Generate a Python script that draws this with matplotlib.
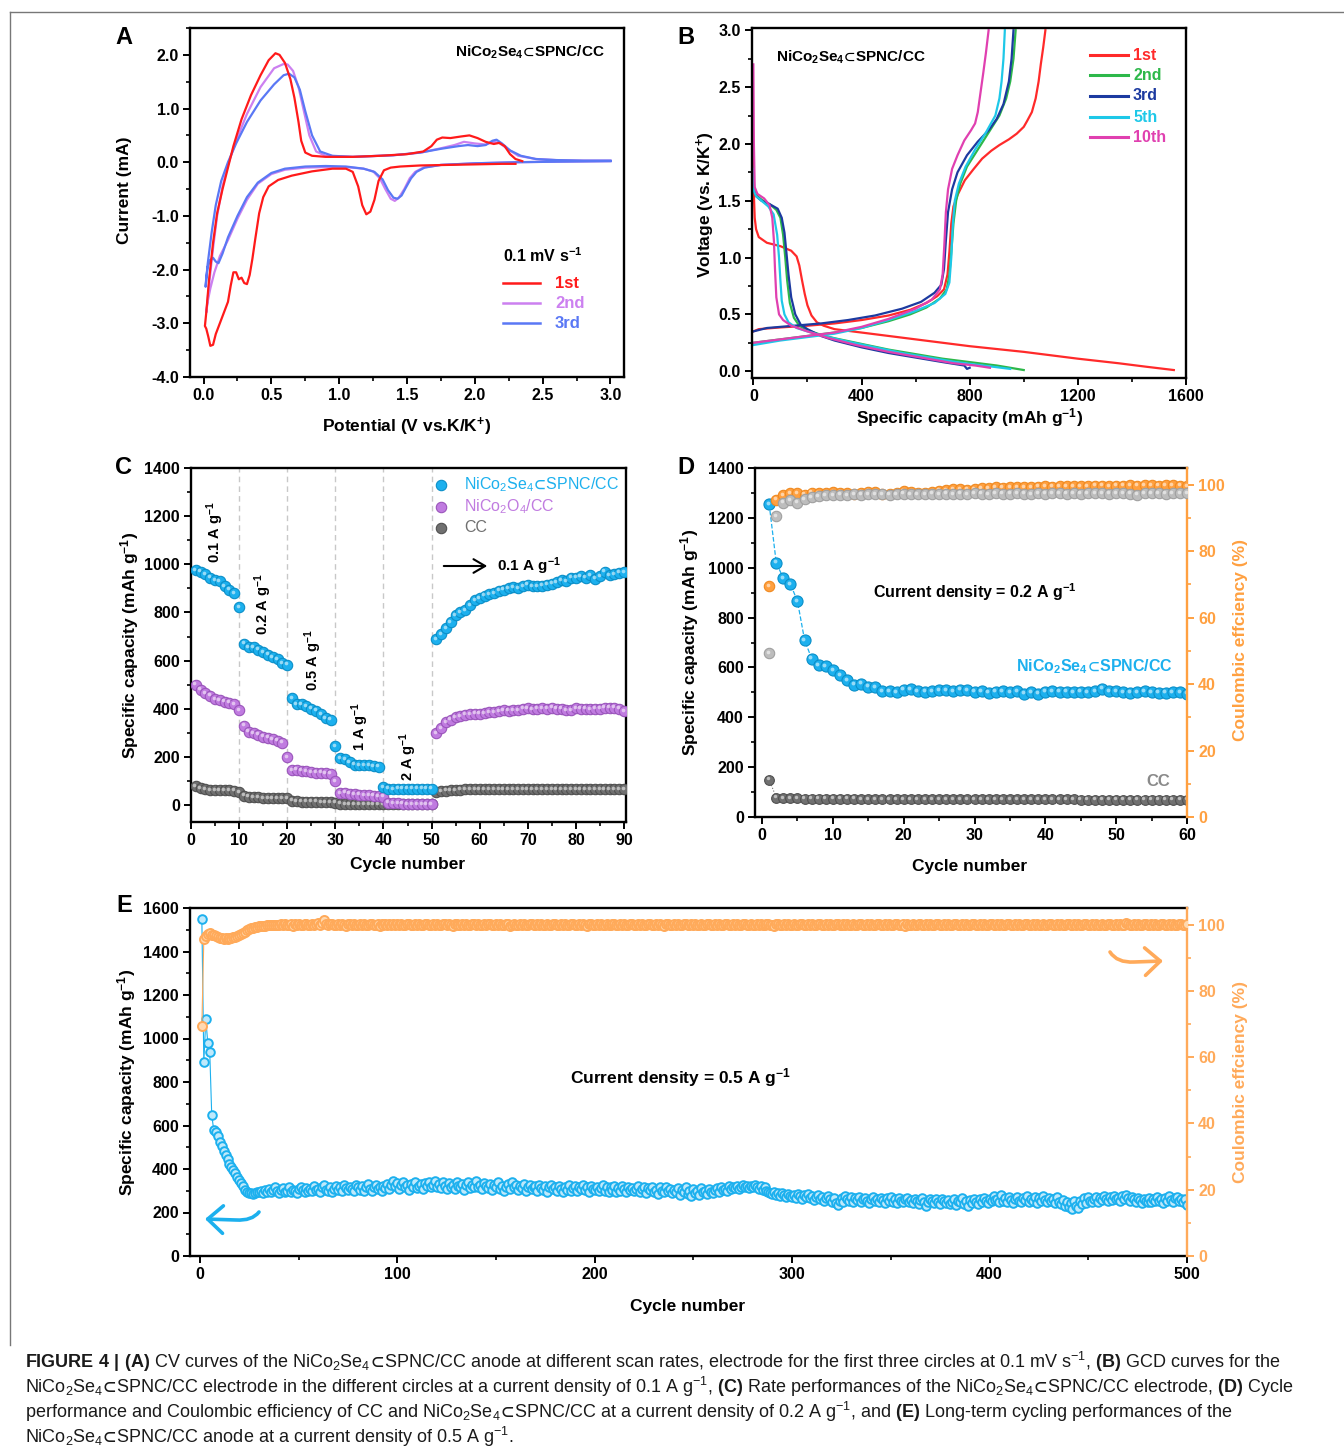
import matplotlib
matplotlib.use('Agg')
import matplotlib.pyplot as plt
from matplotlib.lines import Line2D
from matplotlib.patches import FancyArrowPatch
from matplotlib.path import Path
from matplotlib.ticker import MultipleLocator, FormatStrFormatter
import matplotlib.transforms as mtransforms
import numpy as np

plt.rcParams['font.family'] = ['Liberation Sans', 'DejaVu Sans']
plt.rcParams['font.weight'] = 'bold'
plt.rcParams['mathtext.default'] = 'regular'
plt.rcParams['mathtext.fontset'] = 'custom'
plt.rcParams['mathtext.rm'] = 'Liberation Sans'
plt.rcParams['mathtext.bf'] = 'Liberation Sans:bold'
plt.rcParams['mathtext.it'] = 'Liberation Sans:italic'
plt.rcParams['axes.unicode_minus'] = False
plt.rcParams['axes.linewidth'] = 1.7

# ---------------- DATA ----------------
# Panel A: CV curves (potential V, current mA), cathodic then anodic sweep
cv1_E = [2.30, 2.20, 2.00, 1.80, 1.60, 1.45, 1.38, 1.33, 1.29, 1.26, 1.23, 1.20, 1.17, 1.14, 1.10, 1.05,
         0.95, 0.80, 0.65, 0.55, 0.48, 0.44, 0.41, 0.38, 0.36, 0.34, 0.32, 0.30, 0.28, 0.26, 0.24, 0.22,
         0.20, 0.18, 0.15, 0.12, 0.09, 0.07, 0.05, 0.035, 0.02, 0.01,
         0.01, 0.02, 0.04, 0.07, 0.10, 0.14, 0.18, 0.22, 0.28, 0.35, 0.42, 0.48, 0.53, 0.56, 0.60, 0.64,
         0.67, 0.70, 0.72, 0.75, 0.80, 0.90, 1.10, 1.30, 1.50, 1.62, 1.68, 1.72, 1.76, 1.82, 1.90, 1.96,
         2.02, 2.08, 2.14, 2.18, 2.22, 2.26, 2.30, 2.35]
cv1_I = [-0.03, -0.03, -0.04, -0.05, -0.06, -0.08, -0.10, -0.15, -0.35, -0.70, -0.92, -0.97, -0.80, -0.45,
         -0.18, -0.12, -0.12, -0.17, -0.25, -0.33, -0.45, -0.65, -0.95, -1.45, -1.80, -2.10, -2.27, -2.25,
         -2.15, -2.18, -2.05, -2.05, -2.30, -2.60, -2.80, -3.00, -3.20, -3.40, -3.42, -3.25, -3.10, -3.05,
         -3.05, -2.80, -2.20, -1.50, -0.95, -0.50, -0.10, 0.30, 0.80, 1.25, 1.62, 1.90, 2.03, 2.00, 1.85,
         1.55, 1.20, 0.75, 0.40, 0.18, 0.12, 0.10, 0.10, 0.12, 0.15, 0.20, 0.30, 0.42, 0.46, 0.45, 0.48,
         0.50, 0.45, 0.38, 0.34, 0.36, 0.30, 0.15, 0.06, 0.02]
cv2_E = [3.00, 2.60, 2.30, 2.00, 1.75, 1.62, 1.56, 1.52, 1.48, 1.44, 1.41, 1.38, 1.34, 1.30, 1.25, 1.18,
         1.05, 0.90, 0.75, 0.60, 0.50, 0.40, 0.32, 0.25, 0.18, 0.12, 0.08, 0.05, 0.03, 0.02,
         0.02, 0.04, 0.07, 0.10, 0.14, 0.18, 0.24, 0.32, 0.42, 0.52, 0.59, 0.62, 0.66, 0.70, 0.74, 0.78,
         0.83, 0.90, 1.10, 1.40, 1.60, 1.75, 1.85, 1.92, 2.00, 2.08, 2.14, 2.18, 2.24, 2.32, 2.45, 2.60,
         2.80, 3.00]
cv2_I = [0.02, 0.01, 0.00, -0.02, -0.05, -0.10, -0.18, -0.30, -0.50, -0.66, -0.72, -0.68, -0.50, -0.30,
         -0.17, -0.12, -0.09, -0.09, -0.10, -0.14, -0.22, -0.40, -0.70, -1.05, -1.45, -1.75, -2.05, -2.35,
         -2.60, -2.80,
         -2.80, -2.30, -1.60, -1.00, -0.45, -0.05, 0.40, 0.90, 1.40, 1.75, 1.83, 1.82, 1.70, 1.40, 0.95,
         0.50, 0.20, 0.12, 0.10, 0.13, 0.18, 0.26, 0.32, 0.38, 0.35, 0.33, 0.38, 0.36, 0.25, 0.12, 0.06,
         0.04, 0.03, 0.03]
cv3_E = [3.00, 2.60, 2.30, 2.00, 1.75, 1.63, 1.57, 1.53, 1.49, 1.46, 1.43, 1.40, 1.36, 1.32, 1.26, 1.18,
         1.05, 0.90, 0.75, 0.60, 0.50, 0.40, 0.32, 0.25, 0.18, 0.14, 0.11, 0.09, 0.07, 0.05, 0.03, 0.02,
         0.015,
         0.015, 0.03, 0.06, 0.09, 0.13, 0.18, 0.24, 0.32, 0.42, 0.52, 0.59, 0.63, 0.67, 0.71, 0.75, 0.80,
         0.86, 0.95, 1.10, 1.40, 1.60, 1.75, 1.88, 1.95, 2.02, 2.08, 2.13, 2.16, 2.20, 2.26, 2.34, 2.45,
         2.60, 2.80, 3.00]
cv3_I = [0.02, 0.01, 0.00, -0.02, -0.05, -0.10, -0.18, -0.30, -0.48, -0.62, -0.68, -0.66, -0.52, -0.32,
         -0.18, -0.12, -0.08, -0.07, -0.08, -0.12, -0.20, -0.38, -0.65, -1.00, -1.40, -1.70, -1.88, -1.85,
         -1.78, -1.82, -1.95, -2.15, -2.32,
         -2.32, -1.90, -1.30, -0.80, -0.35, 0.00, 0.35, 0.75, 1.15, 1.45, 1.62, 1.65, 1.58, 1.35, 0.95,
         0.50, 0.20, 0.12, 0.10, 0.13, 0.18, 0.25, 0.30, 0.32, 0.30, 0.32, 0.40, 0.42, 0.35, 0.22, 0.12,
         0.06, 0.04, 0.03, 0.03]

# Panel B: GCD curves (capacity mAh/g, voltage V)
gcd1_dis_c = [0, 2, 5, 10, 20, 50, 100, 140, 160, 170, 180, 190, 200, 215, 235, 260, 300, 400, 600, 800,
              1000, 1200, 1350, 1450, 1555]
gcd1_dis_v = [1.95, 1.55, 1.35, 1.25, 1.18, 1.13, 1.10, 1.06, 1.01, 0.93, 0.80, 0.68, 0.58, 0.49, 0.43,
              0.40, 0.37, 0.34, 0.28, 0.22, 0.17, 0.11, 0.07, 0.04, 0.01]
gcd1_chg_c = [0, 20, 100, 200, 300, 400, 500, 580, 640, 680, 705, 718, 725, 732, 740, 755, 782, 815, 846,
              880, 910, 945, 974, 1000, 1012, 1030, 1044, 1055, 1063, 1072, 1080]
gcd1_chg_v = [0.35, 0.37, 0.385, 0.40, 0.42, 0.45, 0.49, 0.54, 0.60, 0.66, 0.72, 0.85, 1.05, 1.30, 1.45,
              1.55, 1.68, 1.78, 1.87, 1.94, 1.99, 2.04, 2.09, 2.15, 2.20, 2.28, 2.40, 2.55, 2.70, 2.85, 3.0]
gcd2_dis_c = [0, 3, 10, 30, 60, 85, 100, 110, 118, 125, 135, 150, 170, 200, 250, 300, 400, 500, 600, 700,
              800, 900, 1000]
gcd2_dis_v = [1.80, 1.60, 1.55, 1.51, 1.47, 1.42, 1.35, 1.20, 1.00, 0.80, 0.60, 0.47, 0.40, 0.36, 0.32,
              0.29, 0.24, 0.19, 0.15, 0.11, 0.08, 0.05, 0.01]
gcd2_chg_c = [0, 100, 200, 300, 400, 500, 580, 640, 690, 715, 725, 732, 740, 750, 765, 790, 830, 870, 910,
              935, 950, 962, 970]
gcd2_chg_v = [0.25, 0.28, 0.31, 0.34, 0.38, 0.44, 0.50, 0.56, 0.64, 0.72, 0.85, 1.05, 1.30, 1.50, 1.65,
              1.80, 1.95, 2.10, 2.25, 2.40, 2.55, 2.75, 3.0]
gcd3_dis_c = [0, 3, 10, 30, 60, 90, 105, 115, 122, 130, 140, 155, 175, 200, 250, 300, 400, 500, 600, 700,
              780, 790, 800]
gcd3_dis_v = [1.75, 1.58, 1.54, 1.50, 1.47, 1.43, 1.35, 1.22, 1.05, 0.85, 0.65, 0.50, 0.41, 0.37, 0.31,
              0.27, 0.21, 0.16, 0.12, 0.08, 0.05, 0.02, 0.03]
gcd3_chg_c = [0, 50, 150, 250, 350, 450, 550, 620, 670, 695, 705, 712, 720, 735, 755, 790, 830, 870, 900,
              925, 945, 955, 962]
gcd3_chg_v = [0.35, 0.38, 0.40, 0.42, 0.45, 0.49, 0.55, 0.61, 0.69, 0.76, 0.90, 1.15, 1.40, 1.60, 1.75,
              1.90, 2.02, 2.12, 2.22, 2.35, 2.55, 2.75, 3.0]
gcd5_dis_c = [0, 3, 10, 30, 55, 75, 88, 95, 100, 105, 115, 130, 160, 200, 260, 350, 450, 550, 650, 750,
              850, 950]
gcd5_dis_v = [1.78, 1.58, 1.54, 1.50, 1.45, 1.38, 1.20, 1.00, 0.80, 0.62, 0.50, 0.43, 0.38, 0.35, 0.31,
              0.26, 0.21, 0.16, 0.12, 0.08, 0.05, 0.02]
gcd5_chg_c = [0, 100, 200, 300, 400, 500, 600, 670, 710, 725, 732, 738, 745, 760, 785, 820, 860, 895, 910,
              918, 925, 930]
gcd5_chg_v = [0.23, 0.27, 0.30, 0.33, 0.38, 0.45, 0.53, 0.60, 0.68, 0.78, 1.00, 1.30, 1.50, 1.65, 1.80,
              1.95, 2.10, 2.25, 2.40, 2.55, 2.75, 3.0]
gcd10_dis_c = [0, 2, 5, 15, 40, 60, 70, 76, 80, 85, 95, 110, 140, 200, 280, 380, 500, 620, 740, 820, 875]
gcd10_dis_v = [2.70, 2.00, 1.62, 1.56, 1.52, 1.46, 1.35, 1.15, 0.90, 0.65, 0.50, 0.45, 0.40, 0.35, 0.29,
               0.23, 0.17, 0.12, 0.07, 0.05, 0.03]
gcd10_chg_c = [0, 100, 200, 300, 400, 500, 600, 660, 690, 700, 706, 712, 720, 735, 755, 780, 805, 820, 830,
               840, 850, 860, 870]
gcd10_chg_v = [0.25, 0.28, 0.31, 0.34, 0.39, 0.46, 0.55, 0.63, 0.72, 0.85, 1.10, 1.40, 1.60, 1.78, 1.90,
               2.03, 2.12, 2.18, 2.28, 2.45, 2.62, 2.80, 3.0]

# Panel C: rate performance
rate_cycles = list(range(1, 91))
rate_se = [975, 970, 960, 945, 935, 930, 910, 895, 880, 822,
           670, 655, 655, 645, 635, 625, 615, 605, 590, 583,
           443, 420, 418, 412, 400, 392, 378, 362, 355, 245,
           195, 190, 178, 168, 165, 165, 165, 163, 160, 75,
           68, 65, 68, 68, 68, 68, 68, 68, 68, 68,
           690, 710, 735, 760, 790, 800, 810, 830, 850, 860,
           870, 875, 880, 890, 895, 900, 905, 900, 910, 915,
           910, 908, 912, 915, 920, 925, 935, 930, 945, 945,
           950, 945, 955, 940, 950, 970, 955, 960, 965, 968]
rate_o4 = [500, 480, 465, 455, 440, 435, 430, 425, 420, 395,
           330, 305, 298, 292, 285, 280, 275, 268, 260, 200,
           145, 148, 143, 140, 138, 135, 135, 133, 130, 100,
           50, 52, 48, 45, 43, 42, 42, 40, 38, 35,
           10, 8, 8, 6, 5, 5, 5, 5, 5, 5,
           300, 320, 345, 355, 365, 370, 375, 378, 380, 380,
           382, 385, 385, 390, 395, 392, 395, 395, 400, 402,
           398, 400, 402, 400, 405, 400, 400, 395, 395, 402,
           400, 400, 398, 400, 400, 405, 405, 405, 400, 390]
rate_cc = [78, 70, 65, 63, 62, 62, 62, 61, 60, 55,
           40, 35, 32, 32, 30, 30, 30, 29, 29, 28,
           18, 16, 15, 15, 14, 14, 13, 13, 12, 10,
           6, 5, 5, 5, 5, 5, 5, 5, 5, 5,
           3, 3, 3, 3, 3, 3, 3, 3, 3, 3,
           55, 58, 60, 62, 63, 64, 65, 65, 65, 66,
           66, 66, 66, 66, 66, 66, 66, 66, 66, 66,
           66, 66, 66, 66, 66, 66, 66, 66, 66, 66,
           66, 66, 66, 66, 66, 66, 66, 66, 66, 66]
rate_labels = ['0.1 A g$^{-1}$', '0.2 A g$^{-1}$', '0.5 A g$^{-1}$', '1 A g$^{-1}$', '2 A g$^{-1}$']

# Panel D: cycling at 0.2 A/g
d_cycles = list(range(1, 61))
d_cap_se = [1255, 1020, 958, 935, 865, 710, 635, 610, 605, 590, 570, 550, 530, 535, 522, 520, 505, 505,
            500, 510, 512, 505, 502, 505, 508, 508, 505, 510, 508, 502, 505, 498, 502, 505, 500, 505, 495,
            500, 495, 503, 505, 503, 503, 500, 503, 500, 505, 515, 505, 505, 500, 498, 500, 505, 500, 498,
            498, 500, 500, 495]
d_cap_cc = [150, 78, 76, 75, 75, 74, 74, 74, 73, 73, 73, 73, 73, 72, 72, 72, 72, 72, 72, 72, 72, 72, 72,
            72, 72, 72, 72, 72, 71, 71, 71, 71, 71, 71, 71, 71, 71, 71, 71, 71, 71, 71, 71, 71, 70, 70, 70,
            70, 70, 70, 70, 70, 70, 70, 70, 70, 70, 70, 70, 70]
d_ce_se = [69.5, 95.5, 96.8, 97.4, 97.5, 97.0, 97.6, 97.4, 97.4, 97.8, 97.6, 97.5, 97.3, 97.6, 97.9, 97.8,
           97.3, 97.2, 97.5, 98.0, 97.8, 97.6, 97.6, 97.8, 98.2, 98.4, 98.6, 98.7, 98.5, 98.7, 98.9, 99.0,
           99.2, 99.1, 99.2, 99.3, 99.2, 99.3, 99.4, 99.5, 99.4, 99.5, 99.5, 99.6, 99.5, 99.6, 99.7, 99.7,
           99.6, 99.7, 99.7, 99.8, 99.7, 99.8, 99.8, 99.7, 99.8, 99.8, 99.7, 99.6]
d_ce_cc = [49.3, 90.5, 94.6, 95.3, 94.6, 95.6, 96.2, 96.6, 96.8, 96.9, 97.0, 96.9, 97.1, 97.0, 97.2, 97.1,
           97.2, 97.0, 97.1, 97.3, 97.2, 97.1, 97.2, 97.3, 97.2, 97.3, 97.2, 97.3, 97.2, 97.4, 97.3, 97.2,
           97.4, 97.3, 97.3, 97.4, 97.3, 97.2, 97.4, 97.3, 97.4, 97.5, 97.3, 97.4, 97.3, 97.4, 97.5, 97.4,
           97.3, 97.4, 97.5, 97.3, 97.0, 97.4, 97.5, 97.4, 97.3, 97.4, 97.5, 97.4]

# Panel E: long-term cycling at 0.5 A/g
e_cycles = list(range(1, 501))
e_cap = [1550, 890, 1090, 980, 940, 650, 580, 570, 550, 525, 505, 485, 465, 445, 425, 410, 395, 380, 365, 350,
         335, 320, 305, 296, 290, 288, 287, 290, 292, 296, 300, 288, 305, 296, 310, 292, 302, 315, 298, 290,
         305, 312, 296, 300, 318, 294, 305, 300, 290, 308, 316, 302, 296, 312, 300, 306, 298, 320, 304, 310,
         296, 315, 325, 305, 300, 318, 296, 310, 322, 305, 315, 300, 328, 312, 302, 318, 310, 298, 325, 315,
         305, 322, 300, 316, 330, 310, 298, 315, 326, 308, 318, 300, 322, 314, 330, 310, 325, 345, 320, 335,
         310, 328, 340, 315, 325, 305, 332, 318, 338, 312, 322, 330, 308, 335, 320, 342, 315, 328, 345, 318,
         330, 312, 338, 322, 306, 335, 318, 328, 310, 340, 320, 315, 332, 305, 326, 338, 312, 325, 318, 345,
         315, 328, 308, 335, 320, 312, 330, 302, 325, 316, 338, 310, 322, 300, 318, 332, 308, 342, 315, 325,
         305, 320, 312, 330, 298, 318, 325, 306, 315, 322, 300, 328, 312, 305, 320, 296, 315, 325, 308, 318,
         300, 322, 310, 296, 318, 305, 325, 300, 312, 320, 298, 315, 308, 325, 302, 316, 296, 320, 310, 305,
         318, 298, 312, 325, 300, 315, 292, 318, 305, 320, 296, 312, 300, 322, 308, 295, 318, 302, 314, 298,
         310, 320, 295, 308, 316, 290, 312, 302, 318, 296, 305, 285, 315, 300, 292, 318, 298, 310, 288, 305,
         296, 312, 280, 302, 292, 316, 285, 300, 275, 308, 290, 298, 280, 312, 292, 300, 285, 306, 295, 290,
         302, 312, 296, 318, 305, 310, 300, 320, 308, 315, 312, 322, 310, 318, 325, 315, 322, 312, 320, 316,
         325, 318, 310, 322, 305, 315, 300, 296, 290, 285, 292, 280, 288, 276, 290, 282, 270, 285, 278, 272,
         282, 268, 285, 275, 262, 280, 270, 286, 265, 275, 258, 272, 280, 262, 270, 255, 268, 278, 260, 250,
         265, 245, 235, 255, 268, 250, 275, 262, 255, 270, 248, 265, 258, 272, 250, 262, 268, 255, 245, 260,
         270, 252, 262, 248, 268, 258, 245, 265, 255, 270, 250, 260, 242, 265, 255, 248, 262, 268, 250, 258,
         245, 262, 255, 240, 258, 265, 250, 230, 248, 262, 255, 245, 260, 250, 238, 262, 252, 245, 258, 240,
         250, 262, 235, 255, 248, 265, 240, 252, 230, 258, 245, 262, 250, 238, 260, 248, 268, 255, 245, 260,
         252, 275, 258, 262, 248, 280, 255, 265, 250, 272, 258, 245, 262, 270, 255, 248, 268, 258, 275, 250,
         262, 255, 270, 245, 265, 252, 278, 258, 250, 268, 255, 262, 245, 270, 250, 240, 258, 232, 248, 225,
         245, 215, 252, 230, 220, 255, 238, 265, 245, 270, 255, 248, 262, 272, 250, 265, 258, 275, 262, 255,
         270, 258, 278, 262, 268, 252, 275, 260, 282, 265, 255, 270, 262, 250, 268, 258, 245, 262, 255, 250,
         265, 248, 260, 252, 272, 255, 262, 245, 268, 252, 275, 258, 250, 265, 270, 255, 262, 248, 260, 235]
e_ce = [69.5, 95.5, 96.5, 97.2, 97.5, 97.0, 96.8, 96.5, 96.2, 96.0, 95.8, 95.7, 95.8, 95.6, 95.9, 96.0, 96.1,
        96.3, 96.5, 96.8, 97.1, 97.5, 97.9, 98.3, 98.6, 98.9, 99.1, 99.3, 99.4, 99.5, 99.6, 99.7, 99.7, 99.8,
        99.8, 99.9, 99.9, 100.0, 99.9, 100.0,
        100.1, 99.8, 100.2, 99.9, 100.0, 100.3, 99.7, 100.1, 99.9, 100.2, 100.0, 99.8, 100.1, 100.3, 99.9, 100.0, 100.2, 99.8, 100.1, 100.4,
        100.0, 100.6, 101.5, 100.2, 99.9, 100.1, 100.3, 99.8, 100.0, 100.2, 99.9, 100.1, 100.0, 99.7, 100.2, 100.1, 99.9, 100.3, 100.0, 99.8,
        100.1, 99.9, 100.2, 100.0, 99.8, 100.3, 100.1, 99.9, 100.0, 100.2, 99.7, 100.1, 100.0, 100.3, 99.9, 100.1, 99.8, 100.2, 100.0, 100.1,
        99.9, 100.2, 100.0, 99.8, 100.1, 100.3, 99.9, 100.0, 100.2, 99.8, 100.1, 100.0, 99.9, 100.3, 100.1, 99.8, 100.0, 100.2, 99.9, 100.1,
        100.0, 99.8, 100.2, 100.1, 99.9, 100.3, 100.0, 99.7, 100.1, 100.2, 99.9, 100.0, 100.1, 99.8, 100.3, 100.0, 99.9, 100.2, 100.1, 99.8,
        100.1, 100.0, 99.8, 100.2, 99.9, 100.1, 100.3, 99.9, 100.0, 100.2, 99.8, 100.1, 100.0, 99.9, 100.2, 100.1, 99.7, 100.0, 100.3, 99.9,
        100.0, 100.2, 99.9, 100.1, 99.8, 100.0, 100.3, 100.1, 99.9, 100.0, 100.2, 99.8, 100.1, 100.0, 99.9, 100.3, 100.0, 99.8, 100.2, 100.1,
        99.9, 100.0, 100.2, 99.8, 100.1, 100.0, 99.9, 100.3, 100.1, 99.8, 100.0, 100.2, 99.9, 100.1, 100.0, 99.7, 100.2, 100.1, 99.9, 100.0,
        100.2, 99.9, 100.1, 100.0, 99.8, 100.3, 100.0, 99.9, 100.1, 100.2, 99.8, 100.0, 100.1, 99.9, 100.3, 100.0, 99.8, 100.2, 100.1, 99.9,
        100.0, 100.1, 99.8, 100.2, 100.0, 99.9, 100.3, 100.1, 99.8, 100.0, 100.2, 99.9, 100.1, 100.0, 99.7, 100.2, 100.1, 99.9, 100.0, 100.3,
        99.9, 100.1, 100.0, 99.8, 100.2, 100.1, 99.9, 100.0, 100.3, 99.8, 100.1, 100.0, 99.9, 100.2, 100.0, 99.8, 100.1, 100.3, 99.9, 100.0,
        100.1, 99.9, 100.2, 100.0, 99.8, 100.1, 100.3, 99.9, 100.0, 100.2, 99.8, 100.1, 100.0, 99.9, 100.2, 100.1, 99.8, 100.0, 100.3, 99.9,
        100.0, 100.2, 99.9, 100.1, 99.8, 100.0, 100.2, 100.1, 99.9, 100.0, 99.7, 100.2, 100.1, 99.9, 100.0, 100.3, 99.8, 100.1, 100.0, 99.9,
        100.2, 100.0, 99.8, 100.1, 100.3, 99.9, 100.0, 100.2, 99.8, 100.1, 100.0, 99.9, 100.2, 100.1, 99.8, 100.0, 100.3, 99.9, 100.1, 100.0,
        99.8, 100.2, 100.1, 99.9, 100.0, 100.3, 99.8, 100.1, 100.0, 99.9, 100.2, 100.0, 99.8, 100.1, 100.3, 99.9, 100.0, 100.2, 99.8, 100.1,
        100.0, 99.9, 100.2, 100.1, 99.8, 100.0, 100.3, 99.9, 100.1, 100.0, 99.8, 100.2, 100.1, 99.9, 100.0, 100.2, 99.7, 100.1, 100.0, 99.9,
        100.2, 100.0, 99.8, 100.1, 100.3, 99.9, 100.0, 100.2, 99.8, 100.1, 100.0, 99.9, 100.3, 100.1, 99.8, 100.0, 100.2, 99.9, 100.1, 100.0,
        99.8, 100.2, 100.1, 99.9, 100.0, 100.3, 99.8, 100.1, 100.0, 99.9, 100.2, 100.1, 99.8, 100.0, 100.3, 99.9, 100.1, 100.0, 99.8, 100.2,
        100.1, 99.9, 100.0, 100.2, 99.8, 100.1, 100.0, 99.9, 100.3, 100.1, 99.8, 100.0, 100.2, 99.9, 100.1, 100.0, 99.8, 100.2, 100.1, 99.9,
        100.0, 100.3, 99.8, 100.1, 100.0, 99.9, 100.2, 100.0, 99.8, 100.1, 100.3, 99.9, 100.0, 100.2, 99.8, 100.1, 100.0, 99.9, 100.2, 100.1,
        99.8, 100.0, 100.3, 99.9, 100.1, 100.0, 99.8, 100.2, 100.1, 99.9, 100.0, 100.3, 99.8, 100.1, 100.0, 99.9, 100.2, 100.0, 99.8, 100.1,
        100.3, 99.9, 100.0, 100.2, 99.8, 100.1, 100.0, 99.9, 100.6, 100.1, 99.8, 100.0, 100.2, 99.9, 100.1, 100.0, 99.8, 100.2, 100.1, 99.9,
        100.0, 100.2, 99.8, 100.1, 100.0, 99.9, 100.3, 100.1, 99.8, 100.0, 100.2, 99.9, 100.1, 100.0, 99.8, 100.2, 100.1, 99.9, 100.0, 100.1]

SUB = r'$\!\subset\!$'
SE = r'NiCo$_2$Se$_4$' + SUB + 'SPNC/CC'

# ---------------- FIGURE ----------------
W, H = 1344, 1452
fig = plt.figure(figsize=(W / 100, H / 100), dpi=100)


def px_axes(l, r, t, b):
    return fig.add_axes([l / W, 1 - b / H, (r - l) / W, (b - t) / H])


def ftext(x, y, s, **kw):
    kw.setdefault('ha', 'center')
    kw.setdefault('va', 'center')
    return fig.text(x / W, 1 - y / H, s, **kw)


def fline(x1, x2, y1, y2, **kw):
    fig.add_artist(Line2D([x1 / W, x2 / W], [1 - y1 / H, 1 - y2 / H], transform=fig.transFigure, **kw))


def farrow(p1, p2, color, lw=1.5, ms=14, style='->,head_length=0.6,head_width=0.35'):
    a = FancyArrowPatch((p1[0] / W, 1 - p1[1] / H), (p2[0] / W, 1 - p2[1] / H), transform=fig.transFigure,
                        arrowstyle=style, mutation_scale=ms, color=color, lw=lw)
    fig.add_artist(a)


def hook_arrow(start, ctrl, mid, end, color, lw=2.6, ms=22):
    pts = [(p[0] / W, 1 - p[1] / H) for p in (start, ctrl, mid, end)]
    path = Path(pts, [Path.MOVETO, Path.CURVE3, Path.CURVE3, Path.LINETO])
    a = FancyArrowPatch(path=path, transform=fig.transFigure, arrowstyle='->,head_length=0.5,head_width=0.45',
                        mutation_scale=ms, color=color, lw=lw, capstyle='round', joinstyle='round')
    fig.add_artist(a)


def style(ax, fs=11.5):
    ax.tick_params(which='major', direction='out', length=5, width=1.4, labelsize=fs, pad=3)
    ax.tick_params(which='minor', direction='out', length=3, width=1.2)


def spheres(ax, x, y, color, edge, ms=7.5, zorder=3, line=None, lw=0.8, ls='-'):
    if line is not None:
        ax.plot(x, y, color=line, lw=lw, ls=ls, zorder=zorder - 0.5)
    ax.plot(x, y, 'o', ms=ms, mfc=color, mec=edge, mew=0.8, zorder=zorder, ls='none')
    off = mtransforms.offset_copy(ax.transData, fig=fig, x=-1.0, y=1.0, units='points')
    ax.plot(x, y, 'o', ms=ms * 0.35, mfc='white', mec='none', alpha=0.55, zorder=zorder + 0.1,
            transform=off, ls='none')


# figure frame
fline(10, 1344, 12, 12, color='#777777', lw=1.0)
fline(10, 10, 12, 1345, color='#777777', lw=1.0)

LBL = 12.5
# ---------- Panel A ----------
axA = px_axes(190, 624, 28, 377)
cA = ['#ff1a1a', '#cc80f0', '#5a78f5']
axA.plot(cv1_E, cv1_I, color=cA[0], lw=1.6, zorder=3)
axA.plot(cv2_E, cv2_I, color=cA[1], lw=1.6, zorder=2)
axA.plot(cv3_E, cv3_I, color=cA[2], lw=1.6, zorder=2.5)
axA.set_xlim(-0.1, 3.1)
axA.set_ylim(-4.0, 2.5)
axA.xaxis.set_major_locator(MultipleLocator(0.5))
axA.xaxis.set_minor_locator(MultipleLocator(0.25))
axA.yaxis.set_major_locator(MultipleLocator(1.0))
axA.yaxis.set_minor_locator(MultipleLocator(0.5))
axA.xaxis.set_major_formatter(FormatStrFormatter('%.1f'))
axA.yaxis.set_major_formatter(FormatStrFormatter('%.1f'))
style(axA)
ftext(124, 38, 'A', fontsize=17)
ftext(125, 190, 'Current (mA)', rotation=90, fontsize=LBL)
ftext(407, 427, 'Potential (V vs.K/K$^{+}$)', fontsize=LBL)
ftext(530, 52, SE, fontsize=11)
ftext(503, 256, '0.1 mV s$^{-1}$', fontsize=11.5, ha='left')
for i, (lab, yy) in enumerate(zip(['1st', '2nd', '3rd'], [283, 303, 323])):
    fline(503, 540, yy, yy, color=cA[i], lw=1.8)
    ftext(555, yy, lab, color=cA[i], fontsize=12, ha='left')

# ---------- Panel B ----------
axB = px_axes(752, 1186, 28, 378)
cB = ['#ff2a2a', '#2db84a', '#1c3aa0', '#1ec8e8', '#e040b0']
gcd = [(gcd1_dis_c, gcd1_dis_v, gcd1_chg_c, gcd1_chg_v),
       (gcd2_dis_c, gcd2_dis_v, gcd2_chg_c, gcd2_chg_v),
       (gcd3_dis_c, gcd3_dis_v, gcd3_chg_c, gcd3_chg_v),
       (gcd5_dis_c, gcd5_dis_v, gcd5_chg_c, gcd5_chg_v),
       (gcd10_dis_c, gcd10_dis_v, gcd10_chg_c, gcd10_chg_v)]
for i, (dc, dv, cc_, cv) in enumerate(gcd):
    axB.plot(dc, dv, color=cB[i], lw=1.6)
    axB.plot(cc_, cv, color=cB[i], lw=1.6)
axB.set_xlim(-5, 1600)
axB.set_ylim(-0.06, 3.02)
axB.xaxis.set_major_locator(MultipleLocator(400))
axB.xaxis.set_minor_locator(MultipleLocator(200))
axB.yaxis.set_major_locator(MultipleLocator(0.5))
axB.yaxis.set_minor_locator(MultipleLocator(0.25))
axB.yaxis.set_major_formatter(FormatStrFormatter('%.1f'))
style(axB)
ftext(686, 38, 'B', fontsize=17)
ftext(706, 205, 'Voltage (vs. K/K$^{+}$)', rotation=90, fontsize=LBL)
ftext(970, 418, 'Specific capacity (mAh g$^{-1}$)', fontsize=LBL)
ftext(851, 57, SE, fontsize=11)
for i, (lab, yy) in enumerate(zip(['1st', '2nd', '3rd', '5th', '10th'], [55, 75, 96, 117, 137])):
    fline(1090, 1128, yy, yy, color=cB[i], lw=2.2)
    ftext(1133, yy, lab, color=cB[i], fontsize=11.5, ha='left')

# ---------- Panel C ----------
axC = px_axes(191, 626, 468, 822)
CY = '#1cb0ee'
CYE = '#0b8fc8'
PU = '#c07be0'
PUE = '#9a55bb'
GR = '#707070'
GRE = '#505050'
for xv in [10, 20, 30, 40, 50]:
    axC.axvline(xv, color='#c8c8c8', lw=1.0, ls=(0, (4, 3)), zorder=1)
spheres(axC, rate_cycles, rate_cc, GR, GRE, zorder=3)
spheres(axC, rate_cycles, rate_o4, PU, PUE, zorder=4)
spheres(axC, rate_cycles, rate_se, CY, CYE, zorder=5)
axC.set_xlim(0, 90.4)
axC.set_ylim(-70, 1400)
axC.xaxis.set_major_locator(MultipleLocator(10))
axC.xaxis.set_minor_locator(MultipleLocator(5))
axC.yaxis.set_major_locator(MultipleLocator(200))
axC.yaxis.set_minor_locator(MultipleLocator(100))
style(axC)
ftext(124, 468, 'C', fontsize=17)
ftext(130, 645, 'Specific capacity (mAh g$^{-1}$)', rotation=90, fontsize=LBL)
ftext(408, 865, 'Cycle number', fontsize=LBL)
for lab, (xx, yy) in zip(rate_labels, [(215, 532), (263, 604), (313, 660), (360, 726), (408, 756)]):
    ftext(xx, yy, lab, rotation=90, fontsize=10.5)
for (lab, col, edge, yy) in [(SE, CY, CYE, 485), ('NiCo$_2$O$_4$/CC', PU, PUE, 507), ('CC', GR, GRE, 528)]:
    fig.add_artist(Line2D([441 / W], [1 - yy / H], marker='o', ms=7.5, mfc=col, mec=edge, mew=0.8,
                          ls='none', transform=fig.transFigure))
    ftext(464, yy, lab, color=col, fontsize=11.5, ha='left', fontweight='normal')
farrow((441, 566), (490, 566), 'black')
ftext(497, 566, '0.1 A g$^{-1}$', fontsize=11, ha='left')

# ---------- Panel D ----------
axD = px_axes(755, 1187, 468, 817)
OR = '#ffa040'
ORE = '#f08a20'
LG = '#bdbdbd'
LGE = '#a0a0a0'
spheres(axD, d_cycles, d_cap_cc, GR, GRE, ms=7, zorder=3, line=GR, lw=0.8, ls=':')
spheres(axD, d_cycles, d_cap_se, CY, CYE, ms=8, zorder=4, line=CY, lw=0.9, ls='--')
axD.set_xlim(-1, 60)
axD.set_ylim(0, 1400)
axD.xaxis.set_major_locator(MultipleLocator(10))
axD.xaxis.set_minor_locator(MultipleLocator(5))
axD.yaxis.set_major_locator(MultipleLocator(200))
axD.yaxis.set_minor_locator(MultipleLocator(100))
style(axD)
axD.spines['right'].set_visible(False)
axD2 = axD.twinx()
spheres(axD2, d_cycles, d_ce_cc, LG, LGE, ms=7.5, zorder=3)
spheres(axD2, d_cycles, d_ce_se, OR, ORE, ms=7.5, zorder=2.5)
axD2.set_ylim(0, 105)
axD2.yaxis.set_major_locator(MultipleLocator(20))
axD2.yaxis.set_minor_locator(MultipleLocator(10))
style(axD2)
axD2.tick_params(axis='y', which='both', colors=OR)
axD2.spines['right'].set_color(OR)
axD2.spines['right'].set_linewidth(1.7)
for s in ['left', 'top', 'bottom']:
    axD2.spines[s].set_visible(False)
ftext(686, 468, 'D', fontsize=17)
ftext(690, 642, 'Specific capacity (mAh g$^{-1}$)', rotation=90, fontsize=LBL)
ftext(970, 866, 'Cycle number', fontsize=LBL)
ftext(1240, 640, 'Coulombic effciency (%)', rotation=90, fontsize=LBL, color=OR)
ftext(975, 592, 'Current density = 0.2 A g$^{-1}$', fontsize=11.5)
ftext(1095, 667, SE, fontsize=11.5, color=CY)
ftext(1158, 781, 'CC', fontsize=12, color='#8a8a8a')

# ---------- Panel E ----------
axE = px_axes(190, 1187, 908, 1256)
CYL = '#bfe9fb'
OE = '#ffaa5a'
OEL = '#ffd9b0'
axE.plot(e_cycles, e_cap, color=CY, lw=0.8, zorder=2)
axE.plot(e_cycles, e_cap, 'o', ms=6.2, mfc=CYL, mec=CY, mew=1.4, ls='none', zorder=3)
axE.set_xlim(-5, 500)
axE.set_ylim(0, 1600)
axE.xaxis.set_major_locator(MultipleLocator(100))
axE.xaxis.set_minor_locator(MultipleLocator(50))
axE.yaxis.set_major_locator(MultipleLocator(200))
axE.yaxis.set_minor_locator(MultipleLocator(100))
style(axE)
axE.spines['right'].set_visible(False)
axE2 = axE.twinx()
axE2.plot(e_cycles, e_ce, color=OE, lw=0.8, zorder=2)
axE2.plot(e_cycles, e_ce, 'o', ms=6.5, mfc=OEL, mec=OE, mew=1.4, ls='none', zorder=3)
axE2.set_ylim(0, 105)
axE2.yaxis.set_major_locator(MultipleLocator(20))
axE2.yaxis.set_minor_locator(MultipleLocator(10))
style(axE2)
axE2.tick_params(axis='y', which='both', colors=OE)
axE2.spines['right'].set_color(OE)
axE2.spines['right'].set_linewidth(1.7)
for s in ['left', 'top', 'bottom']:
    axE2.spines[s].set_visible(False)
ftext(124, 905, 'E', fontsize=17)
ftext(127, 1082, 'Specific capacity (mAh g$^{-1}$)', rotation=90, fontsize=LBL)
ftext(688, 1306, 'Cycle number', fontsize=LBL)
ftext(1240, 1082, 'Coulombic effciency (%)', rotation=90, fontsize=LBL, color=OE)
ftext(680, 1078, 'Current density = 0.5 A g$^{-1}$', fontsize=12.5)
hook_arrow((259, 1212), (252, 1221), (236, 1220), (205, 1219), CY)
hook_arrow((1110, 952), (1117, 963), (1134, 962), (1163, 961), OE)

# ---------- Caption ----------
cap_lines = [
    r'$\mathbf{FIGURE\ 4\ |\ (A)}$ CV curves of the NiCo$_2$Se$_4$' + SUB + r'SPNC/CC anode at different scan rates, '
    r'electrode for the first three circles at 0.1 mV s$^{-1}$, $\mathbf{(B)}$ GCD curves for the',
    r'NiCo$_2$Se$_4$' + SUB + r'SPNC/CC electrode in the different circles at a current density of 0.1 A g$^{-1}$, '
    r'$\mathbf{(C)}$ Rate performances of the NiCo$_2$Se$_4$' + SUB + r'SPNC/CC electrode, $\mathbf{(D)}$ Cycle',
    r'performance and Coulombic efficiency of CC and NiCo$_2$Se$_4$' + SUB + r'SPNC/CC at a current density of '
    r'0.2 A g$^{-1}$, and $\mathbf{(E)}$ Long-term cycling performances of the',
    r'NiCo$_2$Se$_4$' + SUB + r'SPNC/CC anode at a current density of 0.5 A g$^{-1}$.',
]
for s, yy in zip(cap_lines, [1362, 1387, 1412, 1437]):
    ftext(25, yy, s, ha='left', fontsize=13.0, fontweight='normal', color='#1a1a1a')

fig.savefig('out.png', dpi=100)
